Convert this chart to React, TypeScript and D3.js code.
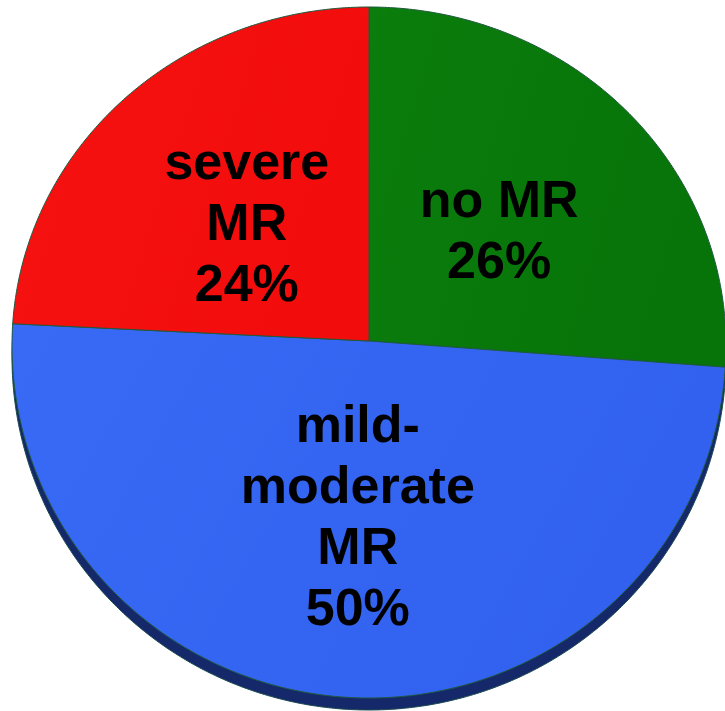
import React from "react";
import * as d3 from "d3";

const categories = ["no MR", "mild-moderate MR", "severe MR"];
const values = [26, 50, 24];
const labelLines = [["no MR", "26%"], ["mild-", "moderate", "MR", "50%"], ["severe", "MR", "24%"]];
const colors = [
  ["#0a7d0c", "#077409"],
  ["#386af6", "#3161ee"],
  ["#f71212", "#f20c0c"],
];

const W = 725;
const H = 711;
const cx = 369;
const cy = 345;
const apexY = 341;
const rx = 357;
const ryTop = 338;
const ryBot = 353;
const depth = 12;

function pt(a: number, dy = 0): [number, number] {
  const c = Math.cos(a);
  const ry = c >= 0 ? ryTop : ryBot;
  return [cx + rx * Math.sin(a), cy - ry * c + dy];
}

function slicePath(a0: number, a1: number): string {
  const p = d3.path();
  p.moveTo(cx, apexY);
  const n = Math.max(2, Math.ceil(((a1 - a0) / Math.PI) * 360));
  for (let i = 0; i <= n; i++) {
    const a = a0 + ((a1 - a0) * i) / n;
    const [x, y] = pt(a);
    p.lineTo(x, y);
  }
  p.closePath();
  return p.toString();
}

function rimPath(): string {
  const p = d3.path();
  const n = 720;
  for (let i = 0; i <= n; i++) {
    const a = (Math.PI * 2 * i) / n;
    const [x, y] = pt(a, depth);
    if (i === 0) p.moveTo(x, y);
    else p.lineTo(x, y);
  }
  p.closePath();
  return p.toString();
}

export default function App() {
  const pie = d3.pie<number>().sort(null).value((d) => d);
  const arcs = pie(values);
  const fontSize = 52;
  const lineH = 61;
  return (
    <svg
      width={W}
      height={H}
      style={{ position: "absolute", left: 0, top: 0, background: "#fff" }}
    >
      <defs>
        {colors.map((c, i) => (
          <linearGradient key={i} id={`g${i}`} x1="0" x2="1" y1="0" y2="0.3">
            <stop offset="0" stopColor={c[0]} />
            <stop offset="1" stopColor={c[1]} />
          </linearGradient>
        ))}
      </defs>
      <path d={rimPath()} fill="#14286a" stroke="#1b4a50" strokeWidth={1} />
      {arcs.map((a, i) => (
        <path
          key={categories[i]}
          d={slicePath(a.startAngle, a.endAngle)}
          fill={`url(#g${i})`}
          stroke="#1f5a3e"
          strokeWidth={1}
          strokeLinejoin="round"
        />
      ))}
      {arcs.map((a, i) => {
        const mid = (a.startAngle + a.endAngle) / 2;
        const [px, py] = pt(mid);
        const lx = cx + (px - cx) * 0.5;
        const ly = apexY + (py - apexY) * 0.49;
        const lines = labelLines[i];
        const first = ly - ((lines.length - 1) * lineH) / 2 + 18;
        return (
          <text
            key={categories[i]}
            x={lx}
            textAnchor="middle"
            fontFamily="'Liberation Sans', Arial, sans-serif"
            fontWeight="bold"
            fontSize={fontSize}
            fill="#000"
          >
            {lines.map((t, j) => (
              <tspan key={j} x={lx} y={first + j * lineH}>
                {t}
              </tspan>
            ))}
          </text>
        );
      })}
    </svg>
  );
}
